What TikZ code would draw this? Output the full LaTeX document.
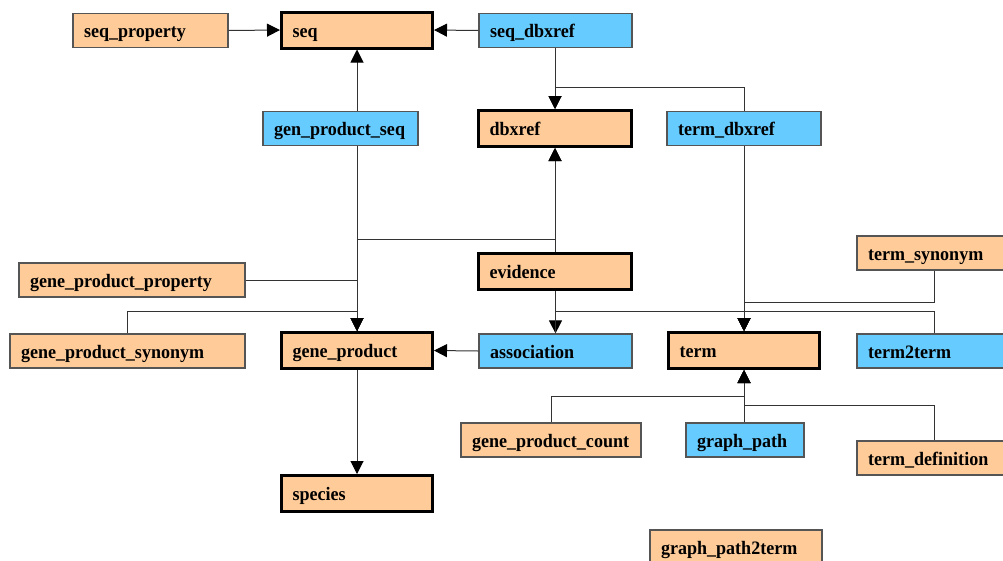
\documentclass[tikz,border=0pt]{standalone}
\usepackage{fontspec}
\setmainfont{Liberation Serif}[FakeStretch=0.95]
\usetikzlibrary{arrows.meta}
\definecolor{tabfill}{HTML}{FFCC99}
\definecolor{linkfill}{HTML}{66CCFF}
\definecolor{boxedge}{HTML}{555555}
\definecolor{wire}{HTML}{333333}
\tikzset{
  tbl/.style={draw=boxedge, line width=1.2pt, inner xsep=11pt, inner ysep=0pt,
    align=left, minimum height=34pt,
    font=\fontsize{19}{21}\selectfont\bfseries, text height=16pt, text depth=2pt},
  tab/.style={tbl, fill=tabfill},
  link/.style={tbl, fill=linkfill},
  core/.style={tab, draw=black, line width=3pt, minimum height=36pt},
  conn/.style={draw=wire, line width=1pt},
  arr/.style={conn, -{Triangle[width=13pt,length=13pt,color=black]}},
}
\begin{document}
\begin{tikzpicture}[x=1pt, y=-1pt]
\useasboundingbox (0,0) rectangle (1003,560);

% tables
\node[tab,  text width=133pt] (seqprop)  at (150.5,30.5) {seq\_property};
\node[core, text width=129pt] (seq)      at (357,30)     {seq};
\node[link, text width=131pt] (seqdbx)   at (555.5,30.5) {seq\_dbxref};
\node[link, text width=133pt] (gps)      at (340.5,128.5){gen\_product\_seq};
\node[core, text width=131pt] (dbxref)   at (555,128.5)  {dbxref};
\node[link, text width=132pt] (termdbx)  at (744,128.5)  {term\_dbxref};
\node[core, text width=131pt] (evidence) at (555,271)    {evidence};
\node[tab,  text width=132pt] (termsyn)  at (934,253)    {term\_synonym};
\node[tab,  text width=204pt] (gpprop)   at (132,280)    {gene\_product\_property};
\node[tab,  text width=213pt] (gpsyn)    at (127.5,351)  {gene\_product\_synonym};
\node[core, text width=129pt] (gp)       at (357,350.5)  {gene\_product};
\node[link, text width=131pt] (assoc)    at (555.5,351)  {association};
\node[core, text width=129pt] (term)     at (744,350.5)  {term};
\node[link, text width=132pt] (ttt)      at (934,351)    {term2term};
\node[tab,  text width=158pt] (gpcount)  at (551,440)    {gene\_product\_count};
\node[link, text width=96pt]  (gpath)    at (745,440)    {graph\_path};
\node[tab,  text width=132pt] (termdef)  at (934,458)    {term\_definition};
\node[core, text width=129pt] (species)  at (357,493.5)  {species};
\node[tab,  text width=150pt] (gp2term)  at (736,547)    {graph\_path2term};

% links into seq
\draw[arr] (seqprop.east) -- (seq.west);
\draw[arr] (seqdbx.west) -- (seq.east);
\draw[arr] (gps.north -| seq.south) -- (seq.south);

% links into dbxref
\draw[arr] (seqdbx.south -| dbxref.north) -- (dbxref.north);
\draw[arr] (termdbx.north) -- ++(0,-23) -| (dbxref.north);
\draw[arr] (evidence.north) -- (dbxref.south);
\draw[arr] (gp.north) -- ++(0,-92) -| (dbxref.south);

% links into gene_product
\draw[arr] (gps.south -| gp.north) -- (gp.north);
\draw[arr] (gpprop.east) -| (gp.north);
\draw[arr] (gpsyn.north) -- ++(0,-22) -| (gp.north);
\draw[arr] (assoc.west) -- (gp.east);

% links into association
\draw[arr] (evidence.south -| assoc.north) -- (assoc.north);

% links into term
\draw[arr] (assoc.north) -- ++(0,-22) -| (term.north);
\draw[arr] (ttt.north) -- ++(0,-22) -| (term.north);
\draw[arr] (termsyn.south) -- ++(0,32) -| (term.north);
\draw[arr] (termdbx.south) -- (term.north);
\draw[arr] (gpath.north -| term.south) -- (term.south);
\draw[arr] (gpcount.north) -- ++(0,-26) -| (term.south);
\draw[arr] (termdef.north) -- ++(0,-35) -| (term.south);

% links into species
\draw[arr] (gp.south) -- (species.north);
\end{tikzpicture}
\end{document}
